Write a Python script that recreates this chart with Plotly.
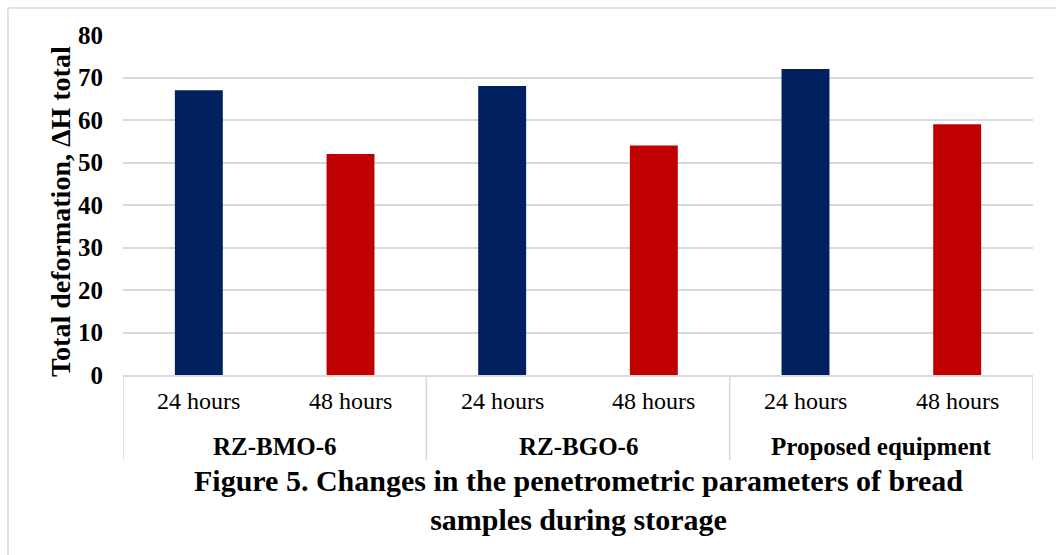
import plotly.graph_objects as go

# ---- data ----
groups = ["RZ-BMO-6", "RZ-BGO-6", "Proposed equipment"]
periods = ["24 hours", "48 hours"]
values_24h = [67, 68, 72]
values_48h = [52, 54, 59]
y_ticks = [0, 10, 20, 30, 40, 50, 60, 70, 80]
y_title = "Total deformation, ΔH total"
caption = "Figure 5. Changes in the penetrometric parameters of bread<br>samples during storage"

NAVY = "#002060"
RED = "#C00000"
GRID = "#d9d9d9"
FONT = "Liberation Serif"

# positions of each category slot on a numeric axis
xs, ys, cols, sub_labels = [], [], [], []
for gi, g in enumerate(groups):
    for pi, p in enumerate(periods):
        xs.append(gi * len(periods) + pi)
        ys.append(values_24h[gi] if pi == 0 else values_48h[gi])
        cols.append(NAVY if pi == 0 else RED)
        sub_labels.append(p)

fig = go.Figure(
    go.Bar(x=xs, y=ys, marker=dict(color=cols, line=dict(width=0)), width=0.316,
           hoverinfo="y")
)

W, H = 1056, 555
L, R, T, B = 123, 23, 35, 180
ph = H - T - B
pw = W - L - R


def py(pix):
    """pixel y -> paper y"""
    return (H - B - pix) / ph


def px(pix):
    return (pix - L) / pw


annotations = []
for x, lab in zip(xs, sub_labels):
    annotations.append(dict(x=x, xref="x", y=py(401), yref="paper", text=lab,
                            showarrow=False, xanchor="center", yanchor="middle",
                            font=dict(family=FONT, size=24, color="black")))
n = len(periods)
for gi, g in enumerate(groups):
    annotations.append(dict(x=gi * n + (n - 1) / 2, xref="x", y=py(446), yref="paper",
                            text="<b>%s</b>" % g, showarrow=False, xanchor="center",
                            yanchor="middle",
                            font=dict(family=FONT, size=25, color="black")))
annotations.append(dict(x=px(61), xref="paper", y=py(212), yref="paper",
                        text="<b>%s</b>" % y_title, textangle=-90, showarrow=False,
                        xanchor="center", yanchor="middle",
                        font=dict(family=FONT, size=28, color="black")))
annotations.append(dict(x=0.5, xref="paper", y=py(500), yref="paper",
                        text="<b>%s</b>" % caption, showarrow=False,
                        xanchor="center", yanchor="middle",
                        font=dict(family=FONT, size=30, color="black")))

shapes = []
for gi in range(len(groups) + 1):
    xd = gi * n - 0.5
    shapes.append(dict(type="line", xref="x", yref="paper", x0=xd, x1=xd,
                       y0=0, y1=py(460), line=dict(color=GRID, width=1.5)))
shapes.append(dict(type="rect", xref="paper", yref="paper",
                   x0=px(8), x1=px(1070), y0=py(8), y1=py(570),
                   line=dict(color=GRID, width=1.5), layer="below"))

fig.update_layout(
    width=W, height=H,
    margin=dict(l=L, r=R, t=T, b=B, pad=0),
    paper_bgcolor="white", plot_bgcolor="white",
    showlegend=False,
    annotations=annotations,
    shapes=shapes,
    xaxis=dict(range=[-0.5, len(xs) - 0.5], showticklabels=False, showgrid=False,
               zeroline=False, showline=True, linecolor=GRID, linewidth=1.5,
               ticks="", fixedrange=True),
    yaxis=dict(range=[0, 80], tickvals=y_ticks, ticktext=["<b>%d</b>" % v for v in y_ticks],
               showgrid=True, gridcolor=GRID, gridwidth=1.5, zeroline=False,
               showline=False, ticks="", ticklabelstandoff=19,
               tickfont=dict(family=FONT, size=25, color="black"), fixedrange=True),
)

fig.write_html("out.html")
